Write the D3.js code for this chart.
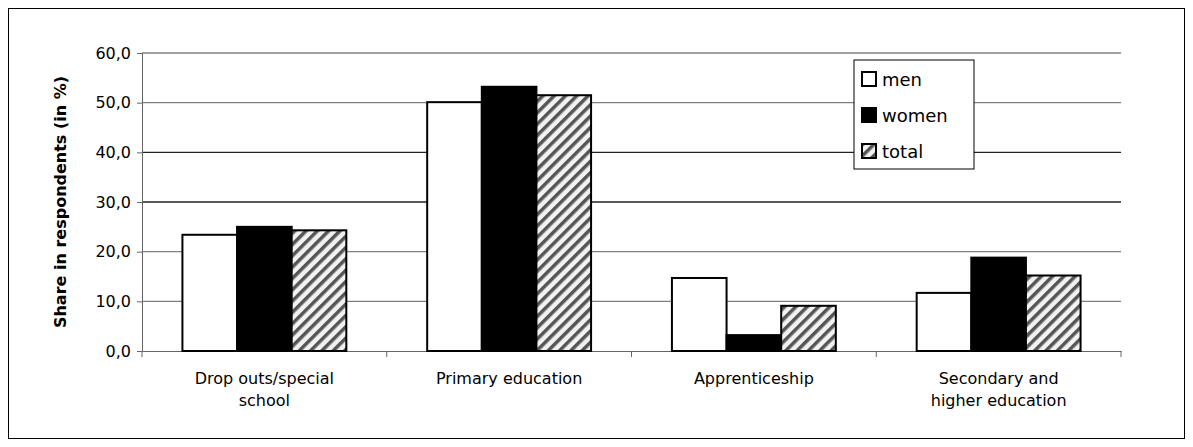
<!DOCTYPE html>
<html><head><meta charset="utf-8">
<script src="https://cdn.jsdelivr.net/npm/d3@7"></script>
<style>body{margin:0;background:#fff}text{font-family:"DejaVu Sans",sans-serif}</style>
</head><body><div id="chart"></div>
<script>
const CATEGORIES = [['Drop outs/special', 'school'], ['Primary education'], ['Apprenticeship'], ['Secondary and', 'higher education']];
const SERIES = ['men', 'women', 'total'];
const MEN = [23.4, 50.1, 14.7, 11.7];
const WOMEN = [25.0, 53.2, 3.2, 18.8];
const TOTAL = [24.3, 51.5, 9.1, 15.2];
const Y_TICKS = [0, 10, 20, 30, 40, 50, 60];

const W = 1193, H = 447;
const M = { top: 53, right: 72, bottom: 96, left: 142 };
const innerW = W - M.left - M.right, innerH = H - M.top - M.bottom;
const svg = d3.select('#chart').append('svg').attr('width', W).attr('height', H);

const defs = svg.append('defs');
const pat = defs.append('pattern').attr('id', 'hatch').attr('patternUnits', 'userSpaceOnUse')
  .attr('width', 8).attr('height', 8).attr('patternTransform', 'rotate(45)');
pat.append('rect').attr('width', 8).attr('height', 8).attr('fill', '#f2f2f2');
pat.append('rect').attr('width', 3.5).attr('height', 8).attr('fill', '#555');

svg.append('rect').attr('x', 8.5).attr('y', 8.5).attr('width', W - 17).attr('height', H - 17)
  .attr('fill', 'none').attr('stroke', '#000');

const g = svg.append('g').attr('transform', `translate(${M.left},${M.top})`);
const x = d3.scaleBand().domain(d3.range(CATEGORIES.length)).range([0, innerW]);
const xs = d3.scaleBand().domain(SERIES).range([0, x.bandwidth()]).paddingOuter(0.74).paddingInner(0);
const y = d3.scaleLinear().domain([0, 60]).range([innerH, 0]);

g.append('g').selectAll('line').data(Y_TICKS.slice(1)).join('line')
  .attr('x1', 0).attr('x2', innerW).attr('y1', d => y(d)).attr('y2', d => y(d))
  .attr('stroke', d => (d === 30 || d === 40) ? '#222' : '#808080').attr('stroke-width', 1.3);

const yAxis = g.append('g').call(d3.axisLeft(y).tickValues(Y_TICKS).tickSize(5).tickPadding(6)
  .tickFormat(d => d3.format('.1f')(d).replace('.', ',')));
yAxis.select('.domain').attr('stroke', '#666');
yAxis.selectAll('line').attr('stroke', '#666');
yAxis.selectAll('text').style('font-size', '16px').attr('fill', '#000');

const xAxis = g.append('g').attr('transform', `translate(0,${innerH})`)
  .call(d3.axisBottom(x).tickSize(0).tickFormat(''));
xAxis.select('.domain').attr('stroke', '#666');
g.append('g').selectAll('line').data(d3.range(CATEGORIES.length + 1)).join('line')
  .attr('x1', d => d * x.step()).attr('x2', d => d * x.step())
  .attr('y1', innerH).attr('y2', innerH + 6).attr('stroke', '#666');

const vals = { men: MEN, women: WOMEN, total: TOTAL };
const fills = { men: '#fff', women: '#000', total: 'url(#hatch)' };
SERIES.forEach(s => {
  g.append('g').selectAll('rect').data(vals[s]).join('rect')
    .attr('x', (d, i) => x(i) + xs(s)).attr('width', xs.bandwidth())
    .attr('y', d => y(d)).attr('height', d => innerH - y(d))
    .attr('fill', fills[s]).attr('stroke', '#000').attr('stroke-width', 2);
});

CATEGORIES.forEach((lines, i) => {
  const t = g.append('text').attr('x', x(i) + x.bandwidth() / 2).attr('y', innerH + 33)
    .attr('text-anchor', 'middle').style('font-size', '16px');
  lines.forEach((l, k) => t.append('tspan').attr('x', x(i) + x.bandwidth() / 2).attr('dy', k ? 22 : 0).text(l));
});

g.append('text').attr('transform', 'rotate(-90)').attr('x', -innerH / 2).attr('y', -76)
  .attr('text-anchor', 'middle').style('font-size', '16px').style('font-weight', 'bold')
  .text('Share in respondents (in %)');

const lg = svg.append('g').attr('transform', 'translate(854,60)');
lg.append('rect').attr('width', 120).attr('height', 109).attr('fill', '#fff').attr('stroke', '#000');
SERIES.forEach((s, i) => {
  lg.append('rect').attr('x', 8).attr('y', 12 + i * 36).attr('width', 14).attr('height', 14)
    .attr('fill', fills[s]).attr('stroke', '#000').attr('stroke-width', 2);
  lg.append('text').attr('x', 28).attr('y', 26 + i * 36).style('font-size', '18px').text(s);
});
</script></body></html>
